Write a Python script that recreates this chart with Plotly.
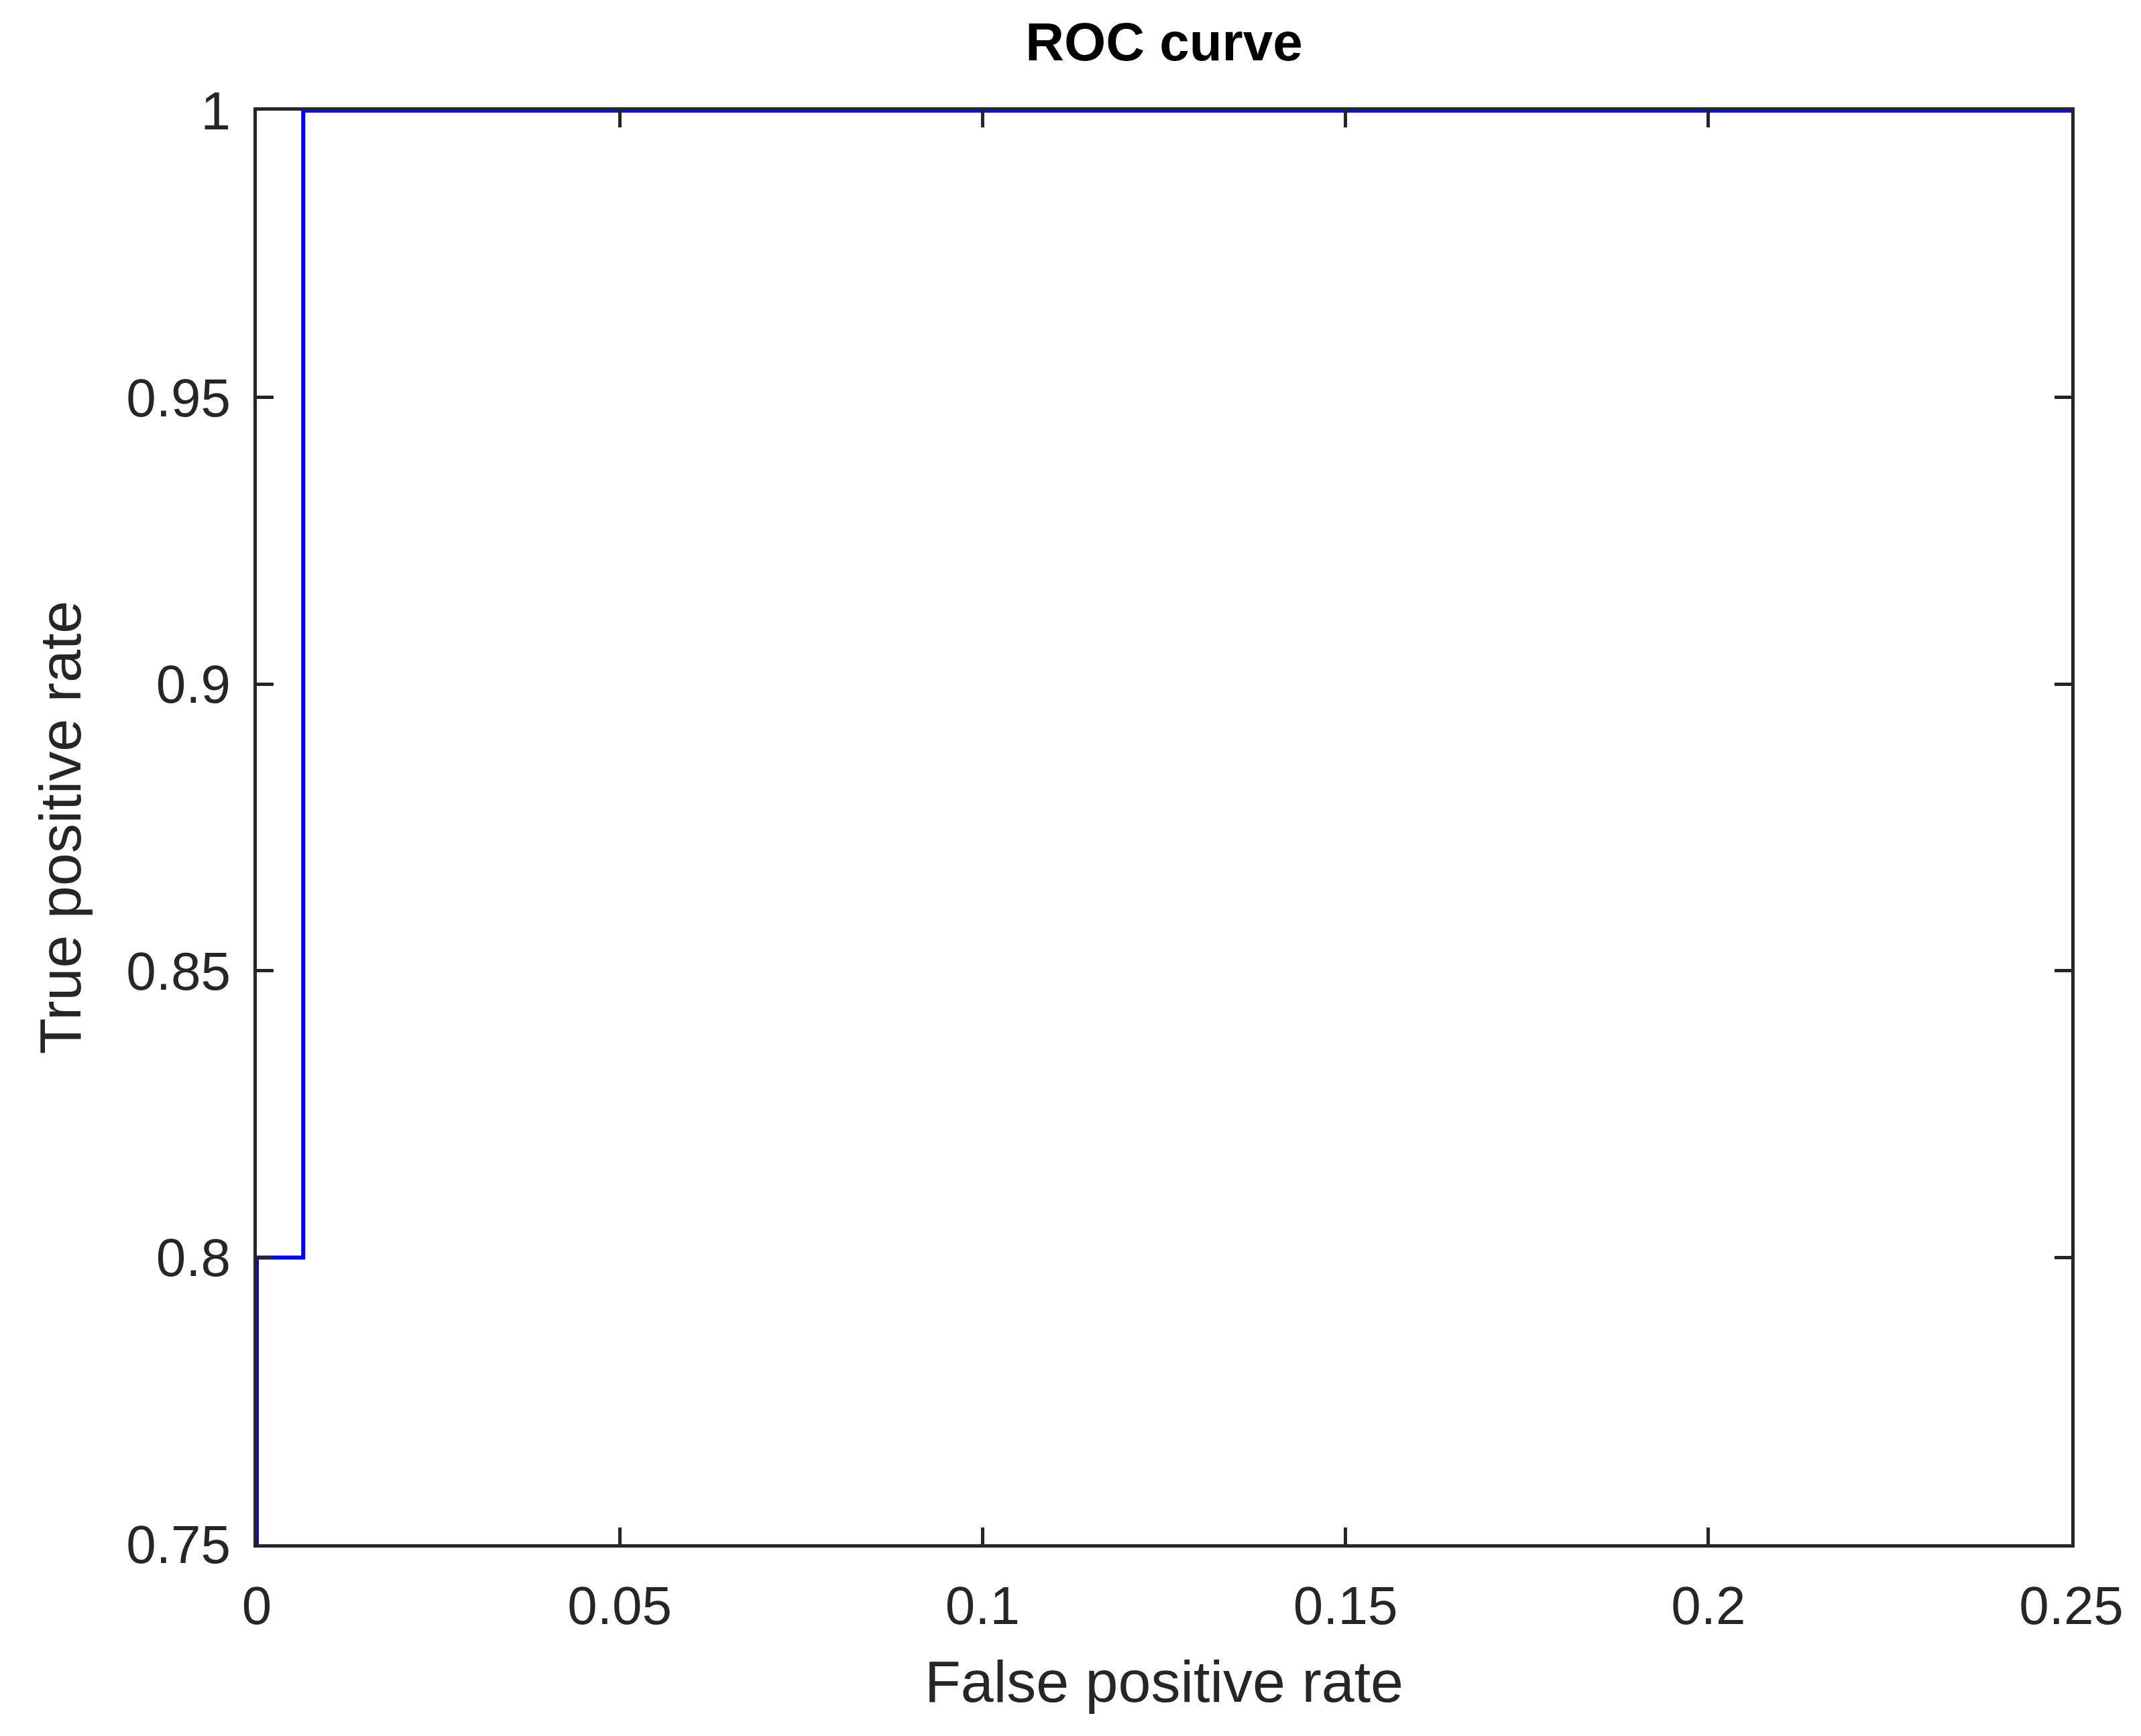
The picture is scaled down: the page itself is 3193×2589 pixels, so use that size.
import plotly.graph_objects as go

fpr = [0, 0, 0.0064, 0.0064, 0.25]
tpr = [0.75, 0.8, 0.8, 1.0, 1.0]
xticks = [0, 0.05, 0.1, 0.15, 0.2, 0.25]
xlabels = ["0", "0.05", "0.1", "0.15", "0.2", "0.25"]
yticks = [0.75, 0.8, 0.85, 0.9, 0.95, 1.0]
ylabels = ["0.75", "0.8", "0.85", "0.9", "0.95", "1"]

fig = go.Figure(go.Scatter(x=fpr, y=tpr, mode="lines", cliponaxis=False,
                           line=dict(color="#0000ff", width=6), showlegend=False))
ax = dict(showline=True, linecolor="#262626", linewidth=5, mirror="ticks",
          ticks="inside", ticklen=25, tickwidth=5, tickcolor="#262626",
          showgrid=False, zeroline=False, ticklabelstandoff=18,
          tickfont=dict(family="Liberation Sans", size=80, color="#262626"))
fig.update_xaxes(range=[0, 0.25], tickvals=xticks, ticktext=xlabels,
                 title=dict(text="False positive rate", font=dict(family="Liberation Sans", size=88, color="#262626"), standoff=40), **ax)
fig.update_yaxes(range=[0.75, 1.0], tickvals=yticks, ticktext=ylabels,
                 title=dict(text="True positive rate", font=dict(family="Liberation Sans", size=88, color="#262626"), standoff=40), **ax)
fig.update_layout(width=3193, height=2589, plot_bgcolor="white", paper_bgcolor="white",
                  margin=dict(l=375, r=112, t=157, b=294),
                  title=dict(text="<b>ROC curve</b>", x=0.5, xref="paper", xanchor="center", y=0.99, yanchor="top",
                             font=dict(family="Liberation Sans", size=80, color="black")))
fig.write_html("out.html")
